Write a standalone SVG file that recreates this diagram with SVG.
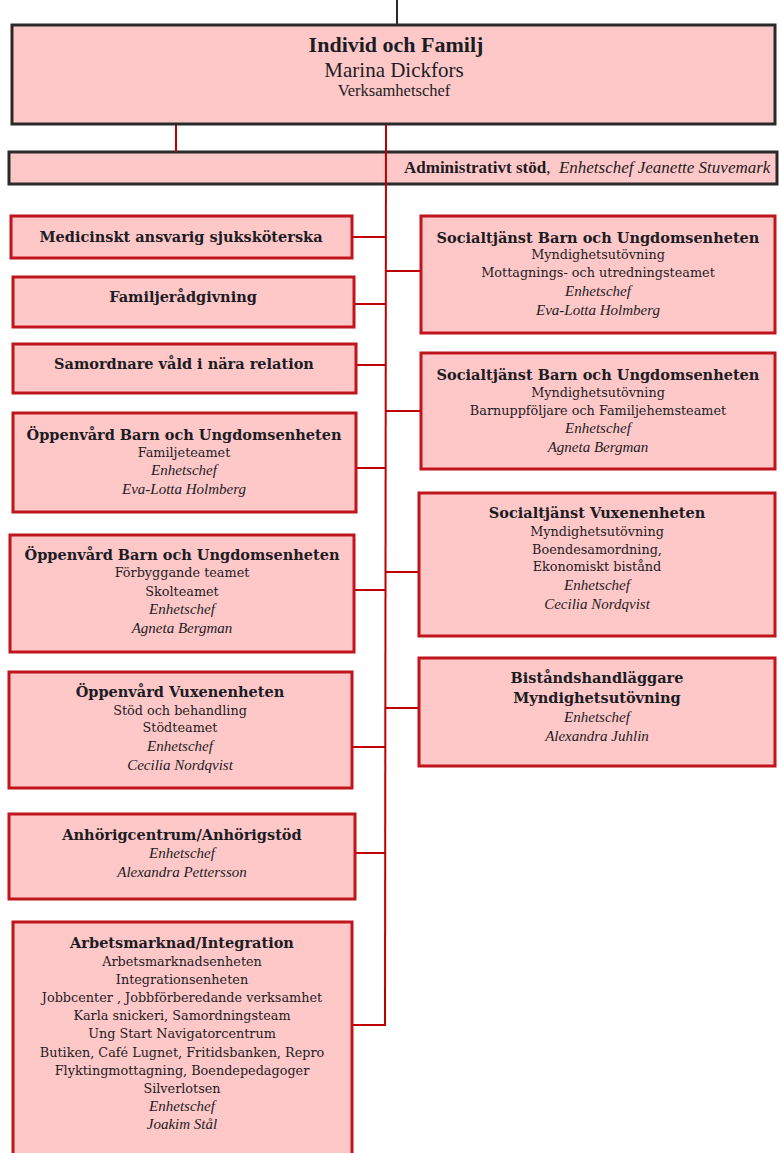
<svg xmlns="http://www.w3.org/2000/svg" width="779" height="1153" viewBox="0 0 779 1153">
<style>
.n rect{fill:#FFC8C8;stroke:#C0151D;stroke-width:3}
.top rect{fill:#FFC8C8;stroke:#2a2a2a;stroke-width:3}
text{text-anchor:middle;fill:#1c1c24}
.h{font-family:"DejaVu Serif",serif;font-weight:bold;font-size:14.5px}
.r{font-family:"DejaVu Serif",serif;font-size:12.8px}
.i{font-family:"Liberation Serif",serif;font-style:italic;font-size:15px}
.c line{stroke:#C00000;stroke-width:2}
</style>
<line x1="397" y1="0" x2="397" y2="25" stroke="#2a2a2a" stroke-width="2"/>
<g id="top" class="top">
<rect x="12" y="25" width="763" height="99"/>
<text x="396" y="52" style="font-family:'Liberation Serif',serif;font-weight:bold;font-size:22px">Individ och Familj</text>
<text x="394" y="77" style="font-family:'Liberation Serif',serif;font-size:21px">Marina Dickfors</text>
<text x="394" y="96" style="font-family:'Liberation Serif',serif;font-size:16.5px">Verksamhetschef</text>
</g>
<g id="admin" class="top">
<rect x="9" y="152" width="768" height="32"/>
<text x="404" y="173" style="text-anchor:start;font-family:'Liberation Serif',serif;font-size:17px"><tspan font-weight="bold">Administrativt stöd</tspan>,&#160; <tspan font-style="italic">Enhetschef Jeanette Stuvemark</tspan></text>
</g>
<g id="connectors" class="c">
<line x1="176" y1="125" x2="176" y2="152"/>
<line x1="386" y1="125" x2="385" y2="1026"/>
<line x1="352" y1="237" x2="386" y2="237"/>
<line x1="354" y1="304" x2="386" y2="304"/>
<line x1="356" y1="365" x2="386" y2="365"/>
<line x1="356" y1="468" x2="386" y2="468"/>
<line x1="354" y1="590" x2="386" y2="590"/>
<line x1="352" y1="747" x2="386" y2="747"/>
<line x1="355" y1="853" x2="386" y2="853"/>
<line x1="352" y1="1025" x2="386" y2="1025"/>
<line x1="386" y1="271" x2="421" y2="271"/>
<line x1="386" y1="411" x2="421" y2="411"/>
<line x1="386" y1="572" x2="419" y2="572"/>
<line x1="386" y1="708" x2="419" y2="708"/>
</g>
<g id="medicinskt" class="n">
<rect x="11" y="216" width="341" height="42"/>
<text class="h" x="181" y="242">Medicinskt ansvarig sjuksköterska</text>
</g>
<g id="familjeradgivning" class="n">
<rect x="13" y="277" width="341" height="50"/>
<text class="h" x="183" y="302">Familjerådgivning</text>
</g>
<g id="samordnare" class="n">
<rect x="13" y="344" width="343" height="49"/>
<text class="h" x="184" y="369">Samordnare våld i nära relation</text>
</g>
<g id="oppenvard-bu-1" class="n">
<rect x="13" y="413" width="343" height="99"/>
<text class="h" x="184" y="440">Öppenvård Barn och Ungdomsenheten</text>
<text class="r" x="184" y="457">Familjeteamet</text>
<text class="i" x="184" y="475">Enhetschef</text>
<text class="i" x="184" y="494">Eva-Lotta Holmberg</text>
</g>
<g id="oppenvard-bu-2" class="n">
<rect x="10" y="535" width="344" height="117"/>
<text class="h" x="182" y="560">Öppenvård Barn och Ungdomsenheten</text>
<text class="r" x="182" y="577">Förbyggande teamet</text>
<text class="r" x="182" y="596">Skolteamet</text>
<text class="i" x="182" y="614">Enhetschef</text>
<text class="i" x="182" y="633">Agneta Bergman</text>
</g>
<g id="oppenvard-vuxen" class="n">
<rect x="9" y="672" width="343" height="116"/>
<text class="h" x="180" y="697">Öppenvård Vuxenenheten</text>
<text class="r" x="180" y="715">Stöd och behandling</text>
<text class="r" x="180" y="732">Stödteamet</text>
<text class="i" x="180" y="751">Enhetschef</text>
<text class="i" x="180" y="770">Cecilia Nordqvist</text>
</g>
<g id="anhorigcentrum" class="n">
<rect x="9" y="814" width="346" height="85"/>
<text class="h" x="182" y="840">Anhörigcentrum/Anhörigstöd</text>
<text class="i" x="182" y="858">Enhetschef</text>
<text class="i" x="182" y="877">Alexandra Pettersson</text>
</g>
<g id="arbetsmarknad" class="n">
<rect x="13" y="922" width="339" height="250"/>
<text class="h" x="182" y="948">Arbetsmarknad/Integration</text>
<text class="r" x="182" y="966">Arbetsmarknadsenheten</text>
<text class="r" x="182" y="984">Integrationsenheten</text>
<text class="r" x="182" y="1002">Jobbcenter , Jobbförberedande verksamhet</text>
<text class="r" x="182" y="1020">Karla snickeri, Samordningsteam</text>
<text class="r" x="182" y="1038">Ung Start Navigatorcentrum</text>
<text class="r" x="182" y="1057">Butiken, Café Lugnet, Fritidsbanken, Repro</text>
<text class="r" x="182" y="1075">Flyktingmottagning, Boendepedagoger</text>
<text class="r" x="182" y="1093">Silverlotsen</text>
<text class="i" x="182" y="1111">Enhetschef</text>
<text class="i" x="182" y="1129">Joakim Stål</text>
</g>
<g id="socialtjanst-bu-1" class="n">
<rect x="421" y="216" width="354" height="117"/>
<text class="h" x="598" y="243">Socialtjänst Barn och Ungdomsenheten</text>
<text class="r" x="598" y="259">Myndighetsutövning</text>
<text class="r" x="598" y="277">Mottagnings- och utredningsteamet</text>
<text class="i" x="598" y="296">Enhetschef</text>
<text class="i" x="598" y="315">Eva-Lotta Holmberg</text>
</g>
<g id="socialtjanst-bu-2" class="n">
<rect x="421" y="353" width="354" height="116"/>
<text class="h" x="598" y="380">Socialtjänst Barn och Ungdomsenheten</text>
<text class="r" x="598" y="397">Myndighetsutövning</text>
<text class="r" x="598" y="415">Barnuppföljare och Familjehemsteamet</text>
<text class="i" x="598" y="433">Enhetschef</text>
<text class="i" x="598" y="452">Agneta Bergman</text>
</g>
<g id="socialtjanst-vuxen" class="n">
<rect x="419" y="493" width="356" height="143"/>
<text class="h" x="597" y="518">Socialtjänst Vuxenenheten</text>
<text class="r" x="597" y="536">Myndighetsutövning</text>
<text class="r" x="597" y="554">Boendesamordning,</text>
<text class="r" x="597" y="571">Ekonomiskt bistånd</text>
<text class="i" x="597" y="590">Enhetschef</text>
<text class="i" x="597" y="609">Cecilia Nordqvist</text>
</g>
<g id="bistandshandlaggare" class="n">
<rect x="419" y="658" width="356" height="108"/>
<text class="h" x="597" y="683">Biståndshandläggare</text>
<text class="h" x="597" y="703">Myndighetsutövning</text>
<text class="i" x="597" y="722">Enhetschef</text>
<text class="i" x="597" y="741">Alexandra Juhlin</text>
</g>
</svg>
